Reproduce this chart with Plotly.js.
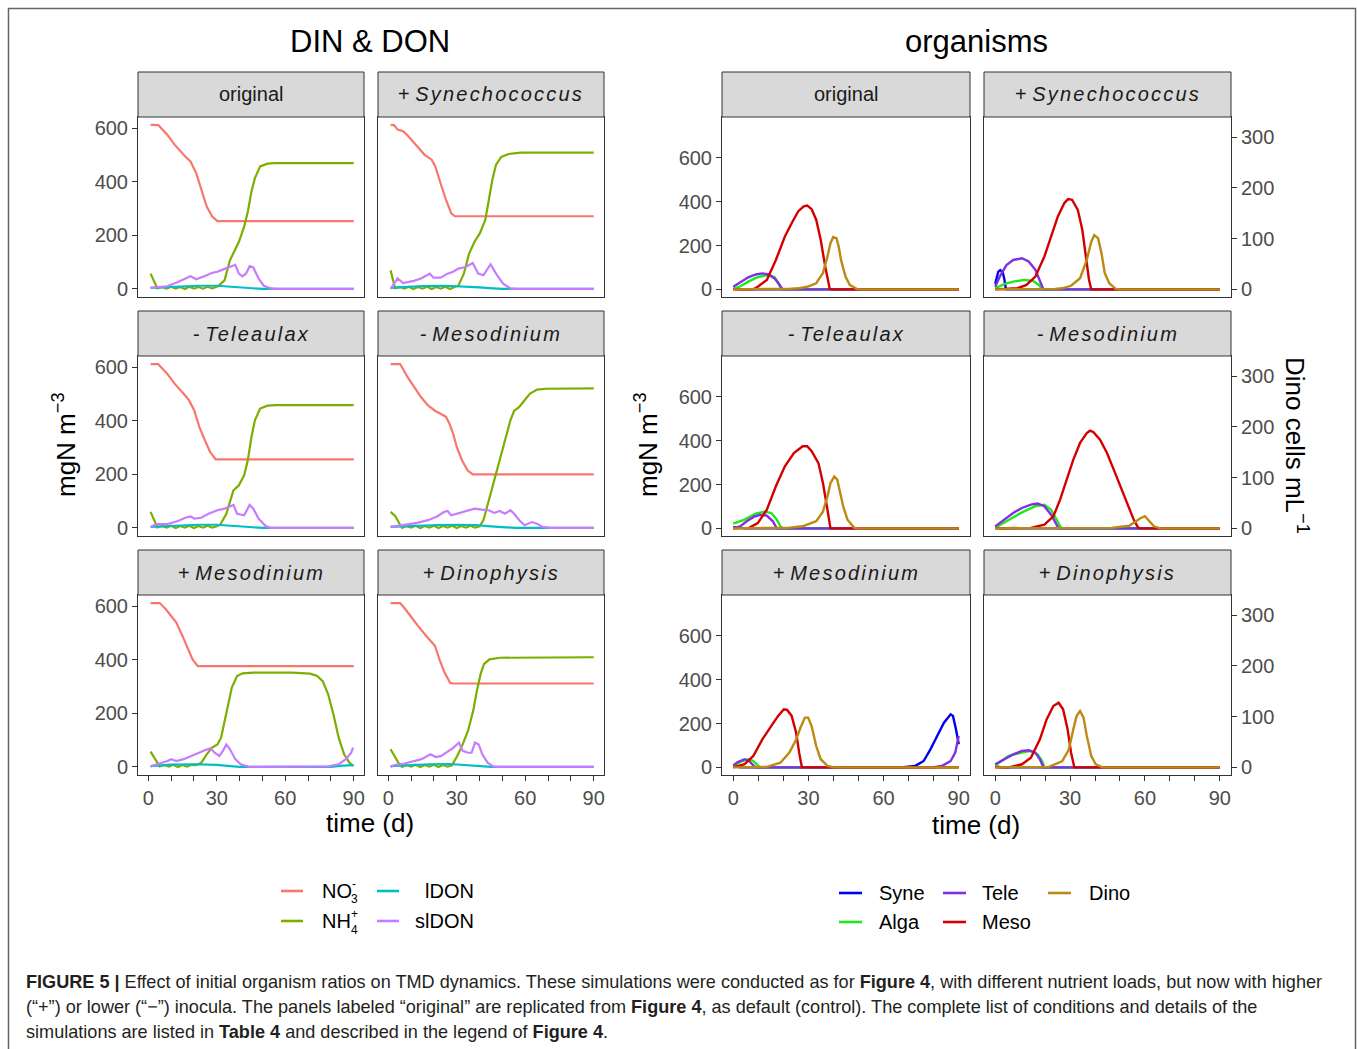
<!DOCTYPE html>
<html>
<head>
<meta charset="utf-8">
<script src="https://cdn.plot.ly/plotly-3.0.1.min.js"></script>
<style>body{margin:0;background:#fff}#chart{width:1357px;height:1049px}</style>
</head>
<body>
<div id="chart"></div>
<script>
// ---------------- DATA ----------------
const panelSigns = ['', '+', '-', '-', '+', '+'];
const panelNames = ['original', 'Synechococcus', 'Teleaulax', 'Mesodinium', 'Mesodinium', 'Dinophysis'];
const xTickVals = [0, 30, 60, 90];
const xMinorTickVals = [10, 20, 40, 50, 70, 80];
const yTickDIN = [0, 200, 400, 600];
const yTickOrg = [0, 200, 400, 600];
const yTickDino = [0, 100, 200, 300];
const dinSeriesNames = ['NO3', 'NH4', 'lDON', 'slDON'];
const orgSeriesNames = ['Syne', 'Alga', 'Tele', 'Meso', 'Dino'];

// DIN & DON panels: [day, mgN m-3]
const NO3_original = [[1,612],[4.4,611],[8.3,575],[11.5,538],[16.2,494],[18.5,475],[21,432],[23.2,375],[25.6,307],[28,270],[30.3,253],[90,253]];
const NH4_original = [[1,57],[4,2],[6,7],[8,1],[10,8],[12,1],[14,7],[16,0],[18,8],[20,1],[22,7],[24,1],[26,8],[28,2],[30.5,10],[33.4,32],[35.8,107],[38.1,151],[39.7,176],[42,232],[43.6,288],[45.2,363],[46.7,413],[49,457],[52.2,467],[55.3,469],[90,469]];
const lDON_original = [[1,4],[8,7],[15,10],[22,12],[30,12],[36,9],[40,6],[45,2],[50,0],[90,0]];
const slDON_original = [[1,4],[4,6],[8.3,10],[13,26],[16.2,39],[18.5,47],[21,36],[23.2,42],[25.6,51],[28,60],[30.3,64],[32.6,72],[35.8,82],[38.1,90],[39.7,57],[41.2,47],[42.8,57],[44.4,85],[46,80],[48.3,39],[50.6,12],[53.8,2],[56,0],[90,0]];

const NO3_plusSyne = [[1,612],[2.5,611],[4.1,594],[6.5,588],[8.8,569],[12.7,531],[15.9,500],[19,482],[20.6,457],[22.9,394],[25.3,332],[27.6,282],[29.2,271],[90,271]];
const NH4_plusSyne = [[1,70],[3,3],[5,7],[7,1],[9,8],[11,0],[13,7],[15,1],[17,8],[19,0],[21,7],[23,1],[25,8],[27,0],[29,7],[30.7,12],[33.1,57],[35.4,132],[37.8,176],[40.1,207],[42.5,257],[44,332],[45.6,407],[47.2,463],[49.5,492],[52.7,503],[58,508],[90,508]];
const lDON_plusSyne = [[1,4],[8,8],[15,11],[25,12],[33,10],[40,6],[46,2],[50,0],[90,0]];
const slDON_plusSyne = [[1,0],[4.1,39],[6.5,22],[11.2,30],[14.3,39],[18.2,57],[19.8,42],[22.9,42],[26,57],[28.4,64],[30.7,76],[33.9,82],[37,97],[39.4,57],[41.7,51],[44.8,92],[47.2,57],[50.3,20],[53.5,2],[56,0],[90,0]];

const NO3_minusTele = [[1,611],[4.3,611],[8.3,575],[11.5,538],[15.4,501],[17.7,478],[20.1,439],[22.4,376],[24.8,327],[27.1,283],[29.5,256],[90,256]];
const NH4_minusTele = [[1,60],[4,2],[6,7],[8,1],[10,8],[12,0],[14,7],[16,1],[18,8],[20,0],[22,7],[24,1],[26,8],[28,1],[30.3,7],[31.5,12],[34.2,53],[37.3,140],[39.7,159],[42,196],[43.6,252],[45.2,339],[46.7,401],[49,445],[52.2,456],[56,458],[90,458]];
const lDON_minusTele = [[1,4],[8,7],[15,10],[22,12],[30,12],[36,9],[40,6],[45,2],[50,0],[90,0]];
const slDON_minusTele = [[1,4],[3.6,14],[8.3,14],[13,26],[16.2,38],[18.5,43],[20.1,35],[23.2,38],[26.4,53],[30.3,66],[33.4,72],[37.3,86],[38.9,53],[42,47],[44.4,86],[46,72],[48.3,35],[51.4,7],[53.8,0],[90,0]];

const NO3_minusMeso = [[1,611],[5.2,611],[8.4,563],[11.2,525],[14.3,488],[17.4,457],[20.6,436],[22.9,426],[25.3,414],[26.8,389],[28.4,352],[30,302],[32.3,252],[34.7,215],[37,200],[90,200]];
const NH4_minusMeso = [[1,60],[3,45],[6,0],[8,7],[10,1],[12,8],[14,0],[16,7],[18,1],[20,8],[22,0],[24,7],[26,1],[28,8],[30,0],[32,7],[34,1],[36,8],[38,1],[40,6],[41.7,29],[44,103],[46.4,178],[48.8,252],[51.1,327],[53.5,401],[55.1,436],[57.4,451],[59.7,476],[62.1,501],[65.2,516],[69.1,519],[90,520]];
const lDON_minusMeso = [[1,4],[8,7],[15,9],[22,11],[30,12],[38,11],[45,6],[52,2],[56,0],[90,0]];
const slDON_minusMeso = [[1,4],[6.5,10],[12.7,19],[17.4,29],[21.4,43],[24.5,60],[26,63],[27.6,47],[30,53],[32.3,60],[34.7,66],[37.8,72],[40.9,68],[44,66],[46.4,56],[48.8,63],[51.1,53],[53.5,66],[55.1,53],[57.4,29],[59.7,10],[62.9,22],[65.2,16],[67.5,4],[70.7,0],[90,0]];

const NO3_plusMeso = [[1,611],[5,611],[7.7,588],[10,563],[12.3,538],[14.7,494],[17,445],[19.4,401],[21.7,376],[90,376]];
const NH4_plusMeso = [[1,57],[5,2],[7,7],[9,1],[11,8],[13,0],[15,7],[17,1],[19,8],[20.9,7],[23.3,16],[25.6,47],[28,72],[30.3,84],[31.9,109],[33.4,165],[35,234],[36.6,296],[38.9,339],[41.3,349],[45.9,352],[63.1,352],[70.9,348],[74,339],[76.4,320],[78.8,271],[81.1,196],[83.4,109],[85.8,47],[88.1,16],[89.7,4]];
const lDON_plusMeso = [[1,3],[10,9],[20,10],[30,8],[36,3],[40,0],[80,0],[85,5],[90,7]];
const slDON_plusMeso = [[1,2],[5.3,12],[8.4,22],[10,29],[12.3,22],[15.5,29],[18.6,41],[21.7,50],[24.8,62],[27.2,70],[29.1,53],[31.1,41],[32.7,60],[34.2,84],[35.8,66],[38.1,29],[40.5,10],[44.4,0],[74,0],[78.8,2],[83.4,10],[86.6,29],[88.9,53],[89.7,72]];

const NO3_plusDino = [[1,611],[5.2,611],[7.5,588],[10.6,551],[13,526],[16.1,494],[18.5,469],[20.5,451],[22.4,401],[24.7,351],[27.1,314],[28.2,311],[90,311]];
const NH4_plusDino = [[1,66],[3,35],[4.4,16],[6,0],[8,7],[10,1],[12,8],[14,0],[16,7],[18,1],[20,8],[22,0],[24,7],[26,1],[27.9,6],[30.2,41],[32.6,84],[34.9,134],[37.2,209],[38.8,283],[40.4,345],[41.9,383],[44.3,401],[49,407],[90,409]];
const lDON_plusDino = [[1,3],[10,8],[18,10],[27,11],[33,7],[40,3],[45,0],[90,0]];
const slDON_plusDino = [[1,0],[2.8,7],[6.7,12],[10.6,20],[14.6,29],[18.5,47],[20.8,37],[23.2,41],[26.3,60],[28.6,72],[31,91],[32.6,60],[34.9,53],[36.5,53],[38,91],[39.6,84],[41.2,47],[43.5,16],[45.9,2],[48,0],[90,0]];

// Organism panels: [day, mgN m-3] (Dino: [day, cells mL-1])
const Syne_original = [[0,3],[3,0],[90,0]];
const Alga_original = [[0,0],[3,15],[6,35],[9,52],[11.6,61],[14.3,66],[16.5,55],[18,30],[19.2,0],[90,0]];
const Tele_original = [[0,12],[3,35],[6,55],[9,68],[11.6,73],[14,68],[16.5,50],[18.5,20],[19.7,0],[90,0]];
const Meso_original = [[0,0],[8,0],[9.8,12],[13.4,43],[17,134],[20.6,241],[23.3,302],[25.9,356],[28.1,379],[29.5,383],[31.3,366],[33.1,318],[34.9,226],[36.7,104],[38.5,3],[39,0],[90,0]];
const Dino_original = [[0,0],[18,0],[22,1],[26,2],[29.5,5],[33.1,12],[35.8,32],[37.6,65],[38.8,91],[39.9,103],[41.2,101],[42.1,84],[43,58],[44.8,25],[46.5,9],[49.2,1],[51,0],[90,0]];

const Syne_plusSyne = [[0,25],[1.2,80],[2,88],[3,78],[3.6,50],[4,20],[4.3,0],[90,0]];
const Alga_plusSyne = [[0,5],[3.6,24],[7.2,35],[11.6,43],[15.2,38],[17.5,20],[18.8,0],[90,0]];
const Tele_plusSyne = [[0,12],[1.8,58],[4.5,111],[7.2,134],[10.7,142],[13.4,127],[16.1,89],[17.9,35],[19.3,0],[90,0]];
const Meso_plusSyne = [[0,0],[9,5],[12.5,20],[16.1,58],[19.7,150],[22.4,241],[25.1,333],[27.7,394],[29.2,412],[30.8,409],[33.1,363],[34.9,272],[36.1,165],[37.6,43],[38.5,0],[90,0]];
const Dino_plusSyne = [[0,0],[20,0],[24,1],[26.8,2],[30.4,7],[34,22],[36.7,58],[38.5,94],[39.7,107],[41.2,101],[42.6,71],[43.9,32],[45.7,12],[48.3,1],[50,0],[90,0]];

const Syne_minusTele = [[0,5],[3,3],[5,0],[90,0]];
const Alga_minusTele = [[0,21],[4.5,40],[9,67],[12.5,76],[15.2,70],[17.4,40],[18.8,9],[19.7,0],[90,0]];
const Tele_minusTele = [[0,0],[2.7,9],[5.4,32],[8.1,52],[10.7,62],[13.4,58],[15.8,32],[17.4,0],[90,0]];
const Meso_minusTele = [[0,0],[6.3,2],[9.8,24],[13.4,85],[17,192],[20.6,283],[24.2,344],[27.7,375],[29.5,375],[31.3,352],[34,298],[35.8,207],[37.6,85],[38.8,0],[90,0]];
const Dino_minusTele = [[0,0],[18,0],[22,1],[27.7,4],[33.1,14],[35.8,33],[37.6,63],[38.8,89],[40.3,102],[41.5,96],[42.6,73],[43.9,43],[45.6,17],[48.3,1],[50,0],[90,0]];

const Syne_minusMeso = [[0,3],[2,0],[90,0]];
const Alga_minusMeso = [[0,3],[5.4,40],[10.7,73],[16.1,101],[19.7,108],[22.4,85],[24.7,40],[26.5,0],[90,0]];
const Tele_minusMeso = [[0,9],[3.6,40],[7.2,70],[10.7,93],[14.3,108],[17,113],[19.7,101],[22.4,62],[24.2,24],[25.4,0],[90,0]];
const Meso_minusMeso = [[0,0],[14.3,2],[19.7,17],[23.3,55],[26,131],[28.6,222],[31.3,314],[34,390],[36.7,435],[38,446],[39.4,439],[42,405],[44.8,344],[47.5,268],[50.1,192],[52.8,116],[55.5,40],[57.3,3],[58,0],[90,0]];
const Dino_minusMeso = [[0,0],[40,0],[46.6,1],[53.7,5],[56.4,14],[58.2,20],[60,24],[61.8,14],[63.6,4],[66.2,0],[90,0]];

const Syne_plusMeso = [[0,6],[3,0],[67,0],[72.5,6],[76,29],[78.7,82],[81.4,143],[84.1,204],[86.8,242],[87.7,235],[88.9,174],[90,105]];
const Alga_plusMeso = [[0,6],[3.6,29],[6.3,37],[8,29],[9.8,9],[10.7,0],[90,0]];
const Tele_plusMeso = [[0,9],[1.8,24],[4.5,37],[6.3,29],[8,9],[8.9,0],[79.6,0],[83.2,6],[86.8,29],[88.6,67],[90,143]];
const Meso_plusMeso = [[0,0],[4.5,14],[8,52],[11.6,128],[15.2,189],[17.9,235],[20.2,265],[21.5,262],[23.3,235],[25.1,158],[26.3,67],[27.4,0],[90,0]];
const Dino_plusMeso = [[0,0],[10,0],[13.4,1],[18.8,9],[22.4,29],[25.1,55],[26.8,78],[28.6,98],[29.9,98],[31.3,81],[33.1,42],[34.9,16],[37.6,3],[40.3,0],[90,0]];

const Syne_plusDino = [[0,4],[3,0],[90,0]];
const Alga_plusDino = [[0,9],[5.4,52],[10.7,67],[14.3,75],[17,59],[18.8,29],[19.7,0],[90,0]];
const Tele_plusDino = [[0,14],[3.6,37],[7.2,59],[10.7,75],[13.4,78],[16.1,67],[17.9,37],[19.3,0],[90,0]];
const Meso_plusDino = [[0,0],[5.4,0],[10.7,14],[14.3,44],[17.9,128],[20.6,219],[23.3,280],[25.4,295],[27.2,265],[29,174],[30.4,67],[31.7,0],[90,0]];
const Dino_plusDino = [[0,0],[15,0],[21.5,1],[26.8,12],[29.5,35],[31.3,75],[32.6,101],[34,111],[35.4,98],[36.7,62],[38.5,22],[40.3,6],[43,0],[90,0]];

const dinPanels = [
  [NO3_original, NH4_original, lDON_original, slDON_original],
  [NO3_plusSyne, NH4_plusSyne, lDON_plusSyne, slDON_plusSyne],
  [NO3_minusTele, NH4_minusTele, lDON_minusTele, slDON_minusTele],
  [NO3_minusMeso, NH4_minusMeso, lDON_minusMeso, slDON_minusMeso],
  [NO3_plusMeso, NH4_plusMeso, lDON_plusMeso, slDON_plusMeso],
  [NO3_plusDino, NH4_plusDino, lDON_plusDino, slDON_plusDino]
];
const orgPanels = [
  [Syne_original, Alga_original, Tele_original, Meso_original, Dino_original],
  [Syne_plusSyne, Alga_plusSyne, Tele_plusSyne, Meso_plusSyne, Dino_plusSyne],
  [Syne_minusTele, Alga_minusTele, Tele_minusTele, Meso_minusTele, Dino_minusTele],
  [Syne_minusMeso, Alga_minusMeso, Tele_minusMeso, Meso_minusMeso, Dino_minusMeso],
  [Syne_plusMeso, Alga_plusMeso, Tele_plusMeso, Meso_plusMeso, Dino_plusMeso],
  [Syne_plusDino, Alga_plusDino, Tele_plusDino, Meso_plusDino, Dino_plusDino]
];

// ---------------- STYLE / LAYOUT ----------------
const W = 1357, H = 1049;
const FONT = '"Liberation Sans", Arial, Helvetica, sans-serif';
const fx = p => p / W;
const fy = p => 1 - p / H;
const dinColors = ['#F8766D', '#7CAE00', '#00BFC4', '#C77CFF'];
const orgColors = ['#0000F0', '#1EE81E', '#8030E0', '#D40000', '#BC8A12'];
const colsL = [[138, 364], [378, 604]];
const colsR = [[722, 970], [984, 1231]];
const rowsY = [[117, 297], [356, 536], [595, 775]];
const stripsY = [[72, 117], [311, 356], [550, 595]];
const tickFont = {family: FONT, size: 20, color: '#4D4D4D'};

const traces = [];
const layout = {
  width: W, height: H, margin: {l: 0, r: 0, t: 0, b: 0},
  paper_bgcolor: '#ffffff', plot_bgcolor: '#ffffff', showlegend: false,
  font: {family: FONT}, shapes: [], annotations: []
};
const axName = (k, n) => n === 1 ? k + 'axis' : k + 'axis' + n;
const axRef = (k, n) => n === 1 ? k : k + n;

function baseAxis() {
  return {showgrid: false, zeroline: false, showline: true, mirror: true, linecolor: '#333333', linewidth: 1,
          ticks: '', showticklabels: false, fixedrange: true};
}
function bottomXTicks() {
  return {ticks: 'outside', ticklen: 5, tickcolor: '#333333', tickwidth: 1,
    tickmode: 'array', tickvals: xTickVals, showticklabels: true, tickfont: tickFont,
    minor: {tickmode: 'array', tickvals: xMinorTickVals, ticks: 'outside', ticklen: 5, tickcolor: '#333333', tickwidth: 1, showgrid: false}};
}

function stripLabel(p) {
  if (panelSigns[p] === '') return panelNames[p];
  return panelSigns[p] + ' <span style="font-style:italic;letter-spacing:2.2px">' + panelNames[p] + '</span>';
}

function addStrip(x0, x1, row, p) {
  const s = stripsY[row];
  layout.shapes.push({type: 'rect', xref: 'paper', yref: 'paper', x0: fx(x0), x1: fx(x1), y0: fy(s[1]), y1: fy(s[0]),
    fillcolor: '#D9D9D9', line: {color: '#333333', width: 1}, layer: 'above'});
  layout.annotations.push({xref: 'paper', yref: 'paper', x: fx((x0 + x1) / 2), y: fy((s[0] + s[1]) / 2),
    text: stripLabel(p), showarrow: false, xanchor: 'center', yanchor: 'middle',
    font: {family: FONT, size: 20, color: '#1A1A1A'}});
}

// DIN & DON panels (subplots 1..6)
for (let p = 0; p < 6; p++) {
  const n = p + 1, col = p % 2, row = Math.floor(p / 2);
  const c = colsL[col], r = rowsY[row];
  const xa = baseAxis();
  Object.assign(xa, {domain: [fx(c[0]), fx(c[1])], range: [-4.5, 94.5], anchor: axRef('y', n)});
  if (row === 2) Object.assign(xa, bottomXTicks());
  const ya = baseAxis();
  Object.assign(ya, {domain: [fy(r[1]), fy(r[0])], range: [-30, 641], anchor: axRef('x', n)});
  if (col === 0) Object.assign(ya, {ticks: 'outside', ticklen: 5, tickcolor: '#333333', tickwidth: 1,
    tickmode: 'array', tickvals: yTickDIN, showticklabels: true, tickfont: tickFont});
  layout[axName('x', n)] = xa;
  layout[axName('y', n)] = ya;
  dinPanels[p].forEach((ser, k) => {
    traces.push({type: 'scatter', mode: 'lines', name: dinSeriesNames[k],
      x: ser.map(d => d[0]), y: ser.map(d => d[1]),
      xaxis: axRef('x', n), yaxis: axRef('y', n),
      line: {color: dinColors[k], width: 2.2}, hoverinfo: 'skip'});
  });
  addStrip(c[0], c[1], row, p);
}

// Organism panels (subplots 7..12, secondary y 13..18)
for (let p = 0; p < 6; p++) {
  const n = p + 7, n2 = p + 13, col = p % 2, row = Math.floor(p / 2);
  const c = colsR[col], r = rowsY[row];
  const xa = baseAxis();
  Object.assign(xa, {domain: [fx(c[0]), fx(c[1])], range: [-4.5, 94.5], anchor: axRef('y', n)});
  if (row === 2) Object.assign(xa, bottomXTicks());
  const ya = baseAxis();
  Object.assign(ya, {domain: [fy(r[1]), fy(r[0])], range: [-35, 787], anchor: axRef('x', n)});
  if (col === 0) Object.assign(ya, {ticks: 'outside', ticklen: 5, tickcolor: '#333333', tickwidth: 1,
    tickmode: 'array', tickvals: yTickOrg, showticklabels: true, tickfont: tickFont});
  const ya2 = {overlaying: axRef('y', n), anchor: axRef('x', n), side: 'right', range: [-15.1, 339.7],
    showgrid: false, zeroline: false, showline: false, ticks: '', showticklabels: false, fixedrange: true};
  if (col === 1) Object.assign(ya2, {ticks: 'outside', ticklen: 5, tickcolor: '#333333', tickwidth: 1,
    tickmode: 'array', tickvals: yTickDino, showticklabels: true, tickfont: tickFont});
  layout[axName('x', n)] = xa;
  layout[axName('y', n)] = ya;
  layout[axName('y', n2)] = ya2;
  orgPanels[p].forEach((ser, k) => {
    const isDino = k === 4;
    traces.push({type: 'scatter', mode: 'lines', name: orgSeriesNames[k],
      x: ser.map(d => d[0]), y: ser.map(d => d[1]),
      xaxis: axRef('x', n), yaxis: isDino ? axRef('y', n2) : axRef('y', n),
      line: {color: orgColors[k], width: 2.4}, hoverinfo: 'skip'});
  });
  addStrip(c[0], c[1], row, p);
}

// Titles and axis titles
function ann(text, x, y, size, opts) {
  layout.annotations.push(Object.assign({xref: 'paper', yref: 'paper', x: fx(x), y: fy(y), text: text,
    showarrow: false, xanchor: 'center', yanchor: 'middle', font: {family: FONT, size: size, color: '#000000'}}, opts || {}));
}
ann('DIN &amp; DON', 370, 41, 31);
ann('organisms', 976, 41, 31);
ann('mgN m<sup>−3</sup>', 64, 445, 26, {textangle: -90});
ann('mgN m<sup>−3</sup>', 646, 445, 26, {textangle: -90});
ann('Dino cells mL<sup>−1</sup>', 1297, 445, 26, {textangle: 90});
ann('time (d)', 370, 823, 26);
ann('time (d)', 976, 825, 26);

// Manual legends
const legKeys = [
  {x0: 281, x1: 303, y: 891, color: dinColors[0]},
  {x0: 281, x1: 303, y: 921, color: dinColors[1]},
  {x0: 377, x1: 399, y: 891, color: dinColors[2]},
  {x0: 377, x1: 399, y: 921, color: dinColors[3]},
  {x0: 839, x1: 862, y: 893, color: orgColors[0]},
  {x0: 839, x1: 862, y: 922, color: orgColors[1]},
  {x0: 943, x1: 966, y: 893, color: orgColors[2]},
  {x0: 943, x1: 966, y: 922, color: orgColors[3]},
  {x0: 1048, x1: 1071, y: 893, color: orgColors[4]}
];
legKeys.forEach(k => layout.shapes.push({type: 'line', xref: 'paper', yref: 'paper',
  x0: fx(k.x0), x1: fx(k.x1), y0: fy(k.y), y1: fy(k.y), line: {color: k.color, width: 2.6}}));
const lf = {xanchor: 'left'};
ann('NO', 320, 891, 20, lf);
ann('3', 349, 899, 12, lf);
ann('-', 350, 884, 12, lf);
ann('NH', 320, 921, 20, lf);
ann('4', 349, 930, 12, lf);
ann('+', 349, 914, 12, lf);
ann('lDON', 476, 891, 20, {xanchor: 'right'});
ann('slDON', 476, 921, 20, {xanchor: 'right'});
ann('Syne', 877, 893, 20, lf);
ann('Alga', 877, 922, 20, lf);
ann('Tele', 980, 893, 20, lf);
ann('Meso', 980, 922, 20, lf);
ann('Dino', 1087, 893, 20, lf);

// Outer frame
layout.shapes.push({type: 'rect', xref: 'paper', yref: 'paper', x0: fx(8.5), x1: fx(1355.5), y0: fy(1080), y1: fy(8.5),
  line: {color: '#666666', width: 1.5}, fillcolor: 'rgba(0,0,0,0)'});

// Caption
const capFont = {family: FONT, size: 18.1, color: '#231F20'};
const capLines = [
  '<b>FIGURE 5 |</b> Effect of initial organism ratios on TMD dynamics. These simulations were conducted as for <b>Figure 4</b>, with different nutrient loads, but now with higher',
  '(“+”) or lower (“−”) inocula. The panels labeled “original” are replicated from <b>Figure 4</b>, as default (control). The complete list of conditions and details of the',
  'simulations are listed in <b>Table 4</b> and described in the legend of <b>Figure 4</b>.'
];
[982, 1007, 1032].forEach((y, i) => layout.annotations.push({xref: 'paper', yref: 'paper', x: fx(24), y: fy(y),
  text: capLines[i], showarrow: false, xanchor: 'left', yanchor: 'middle', align: 'left', font: capFont}));

Plotly.newPlot('chart', traces, layout, {staticPlot: true, displayModeBar: false});
</script>
</body>
</html>
